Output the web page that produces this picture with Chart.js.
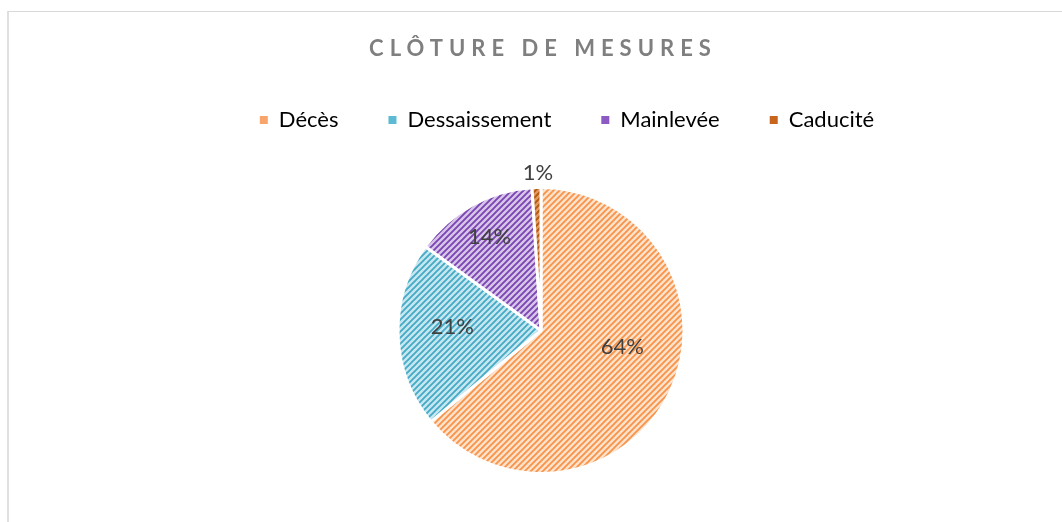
<!DOCTYPE html>
<html>
<head>
<meta charset="utf-8">
<script src="https://cdn.jsdelivr.net/npm/chart.js"></script>
<style>
  html, body { margin: 0; padding: 0; background: #fff; }
  #wrap { position: relative; width: 1062px; height: 522px; overflow: hidden; }
  #cadre { position: absolute; left: 7px; top: 11px; width: 1200px; height: 700px;
           border-top: 1px solid #d9d9d9; border-left: 2px solid #e0e0e0; }
  canvas { position: absolute; left: 0; top: 0; }
</style>
</head>
<body>
<div id="wrap">
  <div id="cadre"></div>
  <canvas id="graphe" width="1062" height="522"></canvas>
</div>
<script>
// ── données ─────────────────────────────────────
const titre = 'CLÔTURE DE MESURES';
const categories = ['Décès', 'Dessaissement', 'Mainlevée', 'Caducité'];
const valeurs = [64, 21, 14, 1];

// couleurs : fond clair + hachure, et teinte pleine pour la légende
const fonds    = ['#fde2cc', '#c8e8f1', '#d8c6ea', '#e39a62'];
const hachures = ['#f7944a', '#45aac6', '#7a45b2', '#b2570f'];
const pleines  = ['#f9a46a', '#5dbad3', '#8c5ac2', '#c8641c'];

// motif hachuré "/"
function hachure(bg, fg) {
  const c = document.createElement('canvas');
  c.width = 6; c.height = 6;
  const x = c.getContext('2d');
  x.fillStyle = bg; x.fillRect(0, 0, 6, 6);
  x.strokeStyle = fg; x.lineWidth = 1.9;
  x.beginPath();
  x.moveTo(0, 6); x.lineTo(6, 0);
  x.moveTo(-1, 1); x.lineTo(1, -1);
  x.moveTo(5, 7); x.lineTo(7, 5);
  x.stroke();
  return x.createPattern(c, 'repeat');
}
const motifs = fonds.map((f, i) => hachure(f, hachures[i]));

const POLICE = 'Lato, "Open Sans", sans-serif';

// titre espacé
const titrePlugin = {
  id: 'titreEspace',
  afterDraw(chart) {
    const ctx = chart.ctx;
    ctx.save();
    ctx.font = 'bold 22px ' + POLICE;
    ctx.fillStyle = '#7f7f7f';
    ctx.letterSpacing = '6px';
    ctx.textAlign = 'center';
    ctx.textBaseline = 'middle';
    ctx.fillText(titre, 540 + 3, 49);
    ctx.restore();
  }
};

// étiquettes % dans les parts
const etiquettes = {
  id: 'etiquettes',
  afterDatasetsDraw(chart, args, opts) {
    const ctx = chart.ctx;
    const meta = chart.getDatasetMeta(0);
    ctx.save();
    ctx.font = '22px ' + POLICE;
    ctx.fillStyle = '#404040';
    ctx.textAlign = 'center';
    ctx.textBaseline = 'middle';
    meta.data.forEach((arc, i) => {
      const p = opts.place[i];
      const a = (arc.startAngle + arc.endAngle) / 2 + p.da * Math.PI / 180;
      const r = arc.outerRadius * p.r;
      ctx.fillText(valeurs[i] + '%', arc.x + Math.cos(a) * r, arc.y + Math.sin(a) * r);
    });
    ctx.restore();
  }
};

// décale la légende comme dans l'original
const decaleLegende = {
  id: 'decaleLegende',
  afterLayout(chart) {
    chart.legend.left += 26;
    chart.legend.right += 26;
  }
};

new Chart(document.getElementById('graphe'), {
  type: 'pie',
  data: {
    labels: categories,
    datasets: [{
      data: valeurs,
      backgroundColor: motifs,
      borderColor: '#ffffff',
      borderWidth: 3,
      radius: 143
    }]
  },
  options: {
    responsive: false,
    animation: false,
    devicePixelRatio: 1,
    layout: { padding: { top: 59, left: 20, bottom: 2, right: 0 } },
    plugins: {
      legend: {
        position: 'top',
        labels: {
          boxWidth: 8, boxHeight: 8, padding: 50,
          color: '#595959',
          font: { family: POLICE, size: 22 },
          generateLabels(chart) {
            return categories.map((c, i) => ({
              text: c, fillStyle: pleines[i], strokeStyle: pleines[i],
              lineWidth: 0, hidden: false, index: i
            }));
          }
        }
      },
      tooltip: { enabled: false },
      etiquettes: {
        place: [ { r: 0.58, da: -14 }, { r: 0.62, da: 4 }, { r: 0.745, da: 0 }, { r: 1.10, da: 0.7 } ]
      }
    }
  },
  plugins: [titrePlugin, etiquettes, decaleLegende]
});
</script>
</body>
</html>
